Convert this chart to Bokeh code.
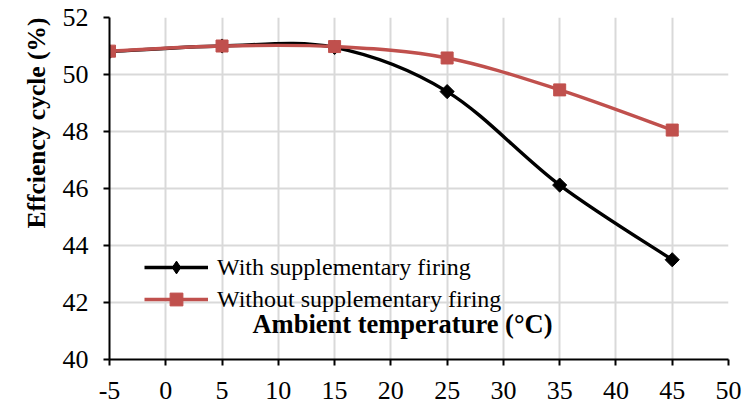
import math
from bokeh.plotting import figure
from bokeh.models import (ColumnDataSource, Range1d, FixedTicker, Legend, LegendItem, Label,
                          Title, CustomJSTickFormatter)
from bokeh.embed import file_html
from bokeh.resources import INLINE

# ---- data ----
temps = [-5, 5, 15, 25, 35, 45]
with_firing = [50.8, 51.0, 50.95, 49.4, 46.12, 43.5]
without_firing = [50.82, 51.0, 50.98, 50.58, 49.46, 48.05]
x_ticks = [-5, 0, 5, 10, 15, 20, 25, 30, 35, 40, 45, 50]
y_ticks = [40, 42, 44, 46, 48, 50, 52]
series_names = ["With supplementary firing", "Without supplementary firing"]

FONT = "Liberation Serif"
RED = "#C0504D"

p = figure(width=744, height=407, output_backend="svg", toolbar_location=None,
           x_range=Range1d(-5, 50), y_range=Range1d(40, 52),
           min_border_left=109, min_border_right=16, min_border_top=17, min_border_bottom=48)
p.outline_line_color = None
p.background_fill_color = "white"
p.border_fill_color = "white"

for ax, ticks in ((p.xaxis[0], x_ticks), (p.yaxis[0], y_ticks)):
    ax.ticker = FixedTicker(ticks=ticks)
    ax.formatter = CustomJSTickFormatter(code="return tick.toString();")
    ax.axis_line_color = "black"
    ax.axis_line_width = 2
    ax.major_tick_line_color = "black"
    ax.major_tick_line_width = 2
    ax.major_tick_in = 0
    ax.minor_tick_line_color = None
    ax.major_label_text_font = FONT
    ax.major_label_text_font_size = "26px"
    ax.major_label_text_color = "black"
p.xaxis.major_tick_out = 6
p.yaxis.major_tick_out = 6
p.xaxis.major_label_standoff = 16
p.yaxis.major_label_standoff = 15

p.xgrid.ticker = FixedTicker(ticks=x_ticks)
p.ygrid.ticker = FixedTicker(ticks=y_ticks)
p.grid.grid_line_color = "#D9D9D9"
p.grid.grid_line_width = 2


def smooth_segments(xs, ys):
    n = len(xs)
    pts = list(zip(xs, ys))
    x0, y0, x1, y1, cx0, cy0, cx1, cy1 = [], [], [], [], [], [], [], []
    for i in range(n - 1):
        pm = pts[i - 1] if i > 0 else pts[i]
        pa = pts[i]
        pb = pts[i + 1]
        pn = pts[i + 2] if i + 2 < n else pts[i + 1]
        x0.append(pa[0]); y0.append(pa[1])
        x1.append(pb[0]); y1.append(pb[1])
        cx0.append(pa[0] + (pb[0] - pm[0]) / 6.0)
        cy0.append(pa[1] + (pb[1] - pm[1]) / 6.0)
        cx1.append(pb[0] - (pn[0] - pa[0]) / 6.0)
        cy1.append(pb[1] - (pn[1] - pa[1]) / 6.0)
    return dict(x0=x0, y0=y0, x1=x1, y1=y1, cx0=cx0, cy0=cy0, cx1=cx1, cy1=cy1)


items = []
# (values, colour, plot marker, angle, plot size, legend marker)
specs = [(with_firing, "black", "square", math.pi / 4, 10, "diamond"),
         (without_firing, RED, "square", 0, 12, "square")]
for (vals, color, marker, ang, msize, lmarker), name in zip(specs, series_names):
    src = ColumnDataSource(smooth_segments(temps, vals))
    p.bezier(x0="x0", y0="y0", x1="x1", y1="y1", cx0="cx0", cy0="cy0",
             cx1="cx1", cy1="cy1", source=src, line_color=color, line_width=3.4)
    p.scatter(temps, vals, marker=marker, angle=ang, size=msize,
              fill_color=color, line_color=color)
    # legend proxies (hidden in the plot, drawn only in the legend)
    lr = p.line(temps, vals, line_color=color, line_width=3.4, visible=False)
    mr = p.scatter(temps, vals, marker=lmarker, size=msize,
                   fill_color=color, line_color=color, visible=False)
    items.append(LegendItem(label=name, renderers=[lr, mr]))

legend = Legend(items=items, location=(35, 44), orientation="vertical",
                glyph_width=64, glyph_height=32, label_height=28, spacing=0,
                padding=0, margin=0, label_standoff=9,
                label_text_font=FONT, label_text_font_size="24px", label_text_color="black",
                border_line_color=None, background_fill_alpha=0)
p.add_layout(legend, "center")

p.add_layout(Label(x=21.03, y=41.23, text="Ambient temperature (°C)", text_font=FONT,
                   text_font_size="26.5px", text_font_style="bold", text_align="center",
                   text_baseline="middle", text_color="black"))

ytitle = Title(text="Effciency cycle (%)", align="right", text_font=FONT,
               text_font_size="25.5px", text_font_style="bold", text_color="black",
               standoff=18, offset=0)
p.add_layout(ytitle, "left")

open("out.html", "w").write(file_html(p, INLINE))
